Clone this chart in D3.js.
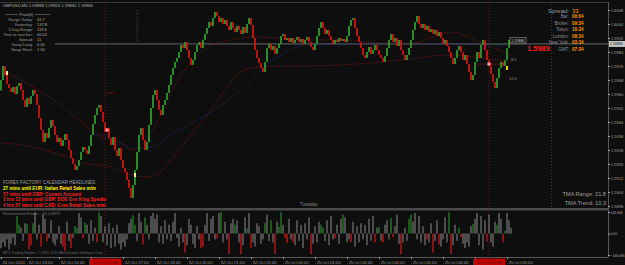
<!DOCTYPE html>
<html>
<head>
<meta charset="utf-8">
<script src="https://cdn.jsdelivr.net/npm/d3@7"></script>
<style>
	html, body { margin: 0; padding: 0; background: #0e0e0e; }
	svg { display: block; font-family: "Liberation Sans", Arial, sans-serif; }
</style>
</head>
<body>
<svg id="chart" width="625" height="265"></svg>
<script>
// ---- data ----

const symbol = "GBPUSD,M5";
const lastQuote = ["1.59888", "1.59926", "1.59882", "1.59886"];
const bid = 1.59886;

// close of each M5 bar, oldest first (open = previous close)
const firstOpen = 1.59620;
const closes = [
	1.59680,1.59760,1.59709,1.59657,1.59634,1.59611,1.59640,1.59600,1.59646,1.59663,
	1.59623,1.59566,1.59526,1.59577,1.59543,1.59589,1.59623,1.59600,1.59537,1.59463,
	1.59394,1.59326,1.59377,1.59349,1.59406,1.59451,1.59417,1.59366,1.59326,1.59349,
	1.59303,1.59337,1.59371,1.59337,1.59280,1.59234,1.59200,1.59166,1.59189,1.59223,
	1.59269,1.59297,1.59280,1.59257,1.59303,1.59366,1.59429,1.59480,1.59520,1.59537,
	1.59497,1.59440,1.59383,1.59406,1.59349,1.59309,1.59354,1.59280,1.59246,1.59291,
	1.59223,1.59177,1.59154,1.59109,1.59063,1.59006,1.59080,1.59166,1.59269,1.59366,
	1.59406,1.59337,1.59280,1.59326,1.59423,1.59520,1.59594,1.59623,1.59566,1.59509,
	1.59480,1.59537,1.59566,1.59606,1.59651,1.59709,1.59749,1.59783,1.59806,1.59840,
	1.59880,1.59863,1.59897,1.59851,1.59806,1.59766,1.59794,1.59840,1.59880,1.59897,
	1.59863,1.59909,1.59943,1.59977,1.60011,1.59989,1.60034,1.60069,1.60046,1.60011,
	1.60034,1.60000,1.60023,1.59989,1.59966,1.60011,1.59977,1.59954,1.59989,1.59966,
	1.59943,1.59983,1.59949,1.60000,1.60034,1.59994,1.59920,1.59851,1.59806,1.59777,
	1.59749,1.59726,1.59783,1.59863,1.59886,1.59851,1.59874,1.59829,1.59863,1.59886,
	1.59931,1.59943,1.59909,1.59920,1.59897,1.59920,1.59891,1.59909,1.59926,1.59897,
	1.59914,1.59886,1.59909,1.59926,1.59897,1.59869,1.59851,1.59886,1.59931,1.59977,
	1.60011,1.59977,1.59943,1.59966,1.59931,1.59909,1.59886,1.59909,1.59897,1.59920,
	1.59903,1.59914,1.59897,1.59931,1.59989,1.60023,1.60034,1.59977,1.59931,1.59897,
	1.59863,1.59823,1.59806,1.59840,1.59869,1.59829,1.59851,1.59880,1.59851,1.59823,
	1.59806,1.59783,1.59817,1.59863,1.59909,1.59943,1.59897,1.59920,1.59874,1.59909,
	1.59851,1.59823,1.59794,1.59823,1.59863,1.59909,1.59966,1.60011,1.60046,1.60000,
	1.59977,1.60000,1.59966,1.59989,1.59954,1.59971,1.59943,1.59966,1.59931,1.59954,
	1.59920,1.59886,1.59909,1.59874,1.59840,1.59806,1.59771,1.59806,1.59851,1.59874,
	1.59840,1.59794,1.59823,1.59771,1.59726,1.59680,1.59709,1.59783,1.59840,1.59806,
	1.59880,1.59909,1.59851,1.59794,1.59760,1.59714,1.59669,1.59634,1.59691,1.59749,
	1.59783,1.59760,1.59794,1.59863,1.59909,1.59886
];

// TMA bands: [bar index, price]
const tmaUpper = [[0,1.59737],[10,1.59680],[20,1.59611],[30,1.59537],[40,1.59440],[50,1.59354],
	[60,1.59320],[66,1.59280],[72,1.59337],[80,1.59480],[87,1.59651],[95,1.59783],[105,1.59880],
	[115,1.59909],[128,1.59926],[150,1.59909],[170,1.59909],[190,1.59891],[205,1.59891],
	[225,1.59954],[235,1.59920],[245,1.59869],[255,1.59823]];
const tmaLower = [[0,1.59320],[16,1.59297],[30,1.59251],[41,1.59206],[55,1.59183],[65,1.59137],
	[75,1.59126],[85,1.59223],[95,1.59366],[105,1.59509],[112,1.59623],[120,1.59726],[128,1.59754],
	[150,1.59760],[170,1.59766],[200,1.59794],[225,1.59823],[240,1.59806],[255,1.59783]];
const tmaMid = [[45,1.59371],[55,1.59354],[66,1.59291],[75,1.59297],[87,1.59383],[100,1.59463],
	[110,1.59537],[120,1.59623],[130,1.59737],[140,1.59823],[150,1.59874],[175,1.59886],
	[225,1.59886],[255,1.59874]];

// signal marks: bar index, price, colour
const markIdx = [3, 53, 67, 244, 253];
const markPrice = [1.59720, 1.59394, 1.59137, 1.59771, 1.59749];
const markColor = ["#f3e9a0", "#ff5c5c", "#f5f0a0", "#ff6262", "#f2d200"];
const markShape = ["rect", "dot", "rect", "dot", "rect"];

// short dashed levels: from bar, to bar, price
const shortLevels = [[53, 57, 1.59606], [238, 252, 1.59771]];

// Retracement Finder histogram, one value per bar
const histVals = [
	-100,-60,-90,-40,-110,-70,-30,-80,120,60,
	40,-50,70,65,-110,-80,70,145,-40,60,
	-90,130,100,-55,-30,90,-60,-80,-40,50,
	-70,-90,-120,80,-50,-100,-30,50,40,140,
	110,-35,75,60,-70,90,-50,40,-60,145,
	120,-60,50,-80,70,-100,40,-90,60,-70,
	-110,-60,-90,-40,70,100,125,60,-50,140,
	80,-75,110,60,-40,120,140,100,130,-60,
	50,-70,90,-40,60,-50,80,140,-30,-90,
	40,-60,-130,-80,100,60,-70,-100,50,-40,
	-100,-90,60,140,-50,100,120,-40,-35,140,
	146,-60,80,-40,-140,70,100,60,90,-60,
	-140,-80,110,35,140,-100,-60,-90,70,50,
	-70,-40,75,130,-50,90,-60,-140,80,45,
	145,60,-30,-65,100,-40,-60,-80,90,-50,
	60,-100,70,-40,110,-140,-70,50,-60,80,
	60,40,-50,90,-80,120,-40,-35,60,-70,
	100,130,110,-60,-40,-60,80,-90,50,-60,
	70,-40,60,-80,100,-50,120,-60,40,45,
	-50,-60,60,90,-40,105,-25,50,130,-70,
	-140,-60,40,-50,100,130,80,140,-40,120,
	-60,50,-80,-40,-60,70,-130,-50,90,-75,
	-90,-40,110,-60,145,-140,-80,60,-50,40,
	-25,-70,-100,-60,-90,50,65,100,140,-80,
	120,-110,90,-55,130,-60,-90,80,60,140,
	100,-60,20,140,90,40
];
// g = green, r = red, . = grey
const histKinds = (
	"........gg" + "...grrg..." + "r..r......" + ".rr..r.gg." + ".rg.....rg" +
	".........." + "......gg.." + ".rg......." + ".........." + "..r......." +
	"rr......r." + "g...r..g.." + "r..g.r...." + "..g..g.r.g" + "g.rr..r..." +
	".....r...." + "gg.....r.." + ".g...r...." + ".......r.g" + ".r...gr..." +
	"r...gg...." + "...r..r..r" + "....gr...g" + "r.....g..." + "...r....g." +
	".rg..."
).split("");
const histRange = 146.666;

// axes
const priceTicks = [1.6008, 1.6000, 1.5992, 1.5984, 1.5976, 1.5968, 1.5960, 1.5952,
	1.5944, 1.5936, 1.5928, 1.5920, 1.5912, 1.5904, 1.5896];
const timeTickIdx = [0, 13, 29, 45, 61, 77, 93, 109, 125, 141, 157, 173, 189, 205, 221, 237, 253];
const timeLabels = ["24 Oct 2011", "24 Oct 13:20", "24 Oct 14:40", "24 Oct 16:00", "24 Oct 17:20",
	"24 Oct 18:40", "24 Oct 20:00", "24 Oct 21:20", "24 Oct 22:40", "25 Oct 00:00", "25 Oct 01:20",
	"25 Oct 02:40", "25 Oct 04:00", "25 Oct 05:20", "25 Oct 06:40", "25 Oct 08:00", "25 Oct 09:20"];
const sessionIdx = [52, 244];
const sessionLabels = ["24 Oct 16:35", "25 Oct 08:35"];

// text panels
const pivotRows = [["Range Today:", "41.7"], ["Yesterday:", "137.8"], ["5 Day Range:", "119.6"],
	["Time to next bar:", "00:52"], ["Spread:", "11"], ["Swap Long:", "0.30"], ["Swap Short:", "1.30"]];
const spread = "33";
const clockRows = [["Bar:", "00:04"], ["Broker:", "09:34"], ["Tokyo:", "16:34"],
	["London:", "08:34"], ["New York:", "03:34"], ["GMT:", "07:34"]];
const headlines = [
	["27 mins until EUR: Italian Retail Sales m/m", "#ffff00"],
	["57 mins until GBP: Current Account", "#ff2020"],
	["1 hrs 12 mins until GBP: BOE Gov King Speaks", "#ff2020"],
	["4 hrs 57 mins until CAD: Core Retail Sales m/m", "#ff2020"]
];
const tmaRange = "21.8", tmaTrend = "10.3";

// ---- drawing ----

const W = 625, H = 265;
const axisX = 608;
const mainTop = 2, mainBottom = 207, subBottom = 257;

const svg = d3.select("#chart");

const x = d3.scaleLinear().domain([0, 255]).range([1, 511]);
const y = d3.scaleLinear()
	.domain([priceTicks[priceTicks.length - 1], priceTicks[0]])
	.range([206, 10]);
const ySub = d3.scaleLinear().domain([-histRange, histRange]).range([255, 212]);

svg.append("rect").attr("width", W).attr("height", H).attr("fill", "#0e0e0e");

const txt = (g, px, py, s, o = {}) => g.append("text")
	.attr("x", px).attr("y", py)
	.attr("font-size", o.size || 4.2)
	.attr("font-weight", o.bold ? "bold" : null)
	.attr("text-anchor", o.anchor || "start")
	.attr("fill", o.fill || "#a0a0a0")
	.text(s);

// frame
const frame = svg.append("g");
frame.append("line").attr("x1", 0).attr("x2", axisX).attr("y1", mainTop + 0.5).attr("y2", mainTop + 0.5)
	.attr("stroke", "#3a3a3a");
frame.append("rect").attr("x", 0).attr("y", 208).attr("width", axisX).attr("height", 2.5).attr("fill", "#4a4a4a");
frame.append("line").attr("x1", 0).attr("x2", axisX).attr("y1", subBottom + 0.5).attr("y2", subBottom + 0.5)
	.attr("stroke", "#555");
frame.append("line").attr("x1", axisX + 0.5).attr("x2", axisX + 0.5).attr("y1", mainTop).attr("y2", subBottom)
	.attr("stroke", "#555");

// session separators
svg.append("g").selectAll("line")
	.data(sessionIdx)
	.enter()
	.append("line")
		.attr("x1", (d) => x(d)).attr("x2", (d) => x(d))
		.attr("y1", mainTop).attr("y2", subBottom)
		.attr("stroke", "#9a1414").attr("stroke-width", 0.8).attr("stroke-dasharray", "1,2");

// shift line
svg.append("line").attr("x1", 551.5).attr("x2", 551.5).attr("y1", mainTop).attr("y2", mainBottom)
	.attr("stroke", "#2338c8").attr("stroke-width", 0.8).attr("stroke-dasharray", "1,2");

// bid line
svg.append("line").attr("x1", 55).attr("x2", axisX).attr("y1", y(bid)).attr("y2", y(bid))
	.attr("stroke", "#6e7474").attr("stroke-width", 0.9);

// TMA bands
const bandLine = d3.line().x((d) => x(d[0])).y((d) => y(d[1])).curve(d3.curveMonotoneX);
[[tmaUpper, "#8a1a1a"], [tmaLower, "#8a1a1a"], [tmaMid, "#23307a"]].forEach(([d, c]) => {
	svg.append("path").datum(d).attr("d", bandLine)
		.attr("fill", "none").attr("stroke", c).attr("stroke-width", 0.9).attr("stroke-dasharray", "1,1.5");
});

// candles
const openOf = (i) => i ? closes[i - 1] : firstOpen;
svg.append("g").selectAll("rect")
	.data(closes)
	.enter()
	.append("rect")
		.attr("x", (d, i) => x(i) - 0.9)
		.attr("width", 1.8)
		.attr("y", (d, i) => y(Math.max(d, openOf(i))))
		.attr("height", (d, i) => Math.max(1, Math.abs(y(d) - y(openOf(i)))))
		.attr("fill", (d, i) => d >= openOf(i) ? "#2c9c2c" : "#d01414");

// short levels
svg.append("g").selectAll("line")
	.data(shortLevels)
	.enter()
	.append("line")
		.attr("x1", (d) => x(d[0])).attr("x2", (d) => x(d[1]))
		.attr("y1", (d) => y(d[2])).attr("y2", (d) => y(d[2]))
		.attr("stroke", "#9a1a1a").attr("stroke-width", 0.9).attr("stroke-dasharray", "2,1.5");

// marks
const marks = svg.append("g");
markIdx.forEach((m, k) => {
	if (markShape[k] === "dot") {
		marks.append("circle").attr("cx", x(m)).attr("cy", y(markPrice[k])).attr("r", 2)
			.attr("fill", markColor[k]);
		marks.append("circle").attr("cx", x(m)).attr("cy", y(markPrice[k])).attr("r", 0.8)
			.attr("fill", "#ffd8d8");
	} else {
		marks.append("rect").attr("x", x(m) - 1).attr("y", y(markPrice[k]) - 2)
			.attr("width", 2).attr("height", 4).attr("fill", markColor[k]);
	}
});

// labels near the last bars
txt(svg, 511, 61, "8.5", { size: 4, fill: "#9a9a9a" });
txt(svg, 509, 80, "12.0", { size: 4, fill: "#9a9a9a" });
svg.append("rect").attr("x", 510).attr("y", 37.5).attr("width", 16).attr("height", 5.5)
	.attr("fill", "#111").attr("stroke", "#b0b0b0").attr("stroke-width", 0.5);
txt(svg, 511.2, 41.8, lastQuote[3], { size: 3.6, fill: "#d0d0d0" });
txt(svg, 527, 50.5, bid.toFixed(4), { size: 7.5, bold: true, fill: "#ff1c1c" });

// header
txt(svg, 3, 6.5, symbol + "  " + lastQuote.join(" "), { size: 4.2, fill: "#b4b4b4" });

// pivot panel
const piv = svg.append("g");
piv.append("line").attr("x1", 5).attr("x2", 18).attr("y1", 14.5).attr("y2", 14.5).attr("stroke", "#888").attr("stroke-width", 0.5);
piv.append("line").attr("x1", 35).attr("x2", 50).attr("y1", 14.5).attr("y2", 14.5).attr("stroke", "#888").attr("stroke-width", 0.5);
txt(piv, 26.5, 16, "Pivot(0)", { size: 4, anchor: "middle", fill: "#a8a8a8" });
pivotRows.forEach((r, k) => {
	txt(piv, 33, 20.8 + k * 5, r[0], { size: 4, anchor: "end", fill: "#9a9a9a" });
	txt(piv, 37, 20.8 + k * 5, r[1], { size: 4, fill: "#b0b0b0" });
});
txt(svg, 0, 0, "Pivot Point Levels", { size: 4, fill: "#3c3c3c" })
	.attr("transform", "translate(136,10) rotate(90)");

// clock panel
const clk = svg.append("g");
txt(clk, 569, 12.5, "Spread:", { size: 6, anchor: "end", fill: "#9a9a9a" });
txt(clk, 572, 12.5, spread, { size: 6, fill: "#ff9a00" });
clockRows.forEach((r, k) => {
	txt(clk, 569, 18 + k * 6.5, r[0], { size: 4.5, anchor: "end", fill: "#8e8e8e" });
	txt(clk, 572, 18 + k * 6.5, r[1], { size: 4.5, bold: true, fill: "#ff9c00" });
});

// calendar headlines
txt(svg, 3, 184, "FOREX FACTORY CALENDAR HEADLINES:", { size: 4.6, fill: "#a0a0a0" });
headlines.forEach((h, k) => {
	txt(svg, 3, 190 + k * 5.5, h[0], { size: 4.6, bold: true, fill: h[1] });
});

txt(svg, 300, 205.5, "Tuesday", { size: 4.6, fill: "#8a8a8a" });
txt(svg, 606, 196, "TMA Range: " + tmaRange, { size: 5.6, anchor: "end", fill: "#9e9e9e" });
txt(svg, 606, 204.5, "TMA Trend: " + tmaTrend, { size: 5.6, anchor: "end", fill: "#9e9e9e" });

// price axis
svg.append("g")
	.attr("transform", `translate(${axisX},0)`)
	.call(d3.axisRight(y).tickValues(priceTicks).tickSize(2).tickFormat(d3.format(".4f")))
	.call((g) => g.select(".domain").remove())
	.call((g) => g.attr("font-size", 4).attr("font-family", null).attr("color", "#a6a6a6"))
	.call((g) => g.selectAll("text").attr("x", 3));

// bid label on axis
svg.append("rect").attr("x", axisX + 1).attr("y", y(bid) - 3).attr("width", 16).attr("height", 6)
	.attr("fill", "#c4c4c4");
txt(svg, axisX + 2, y(bid) + 1.5, lastQuote[3], { size: 3.5, fill: "#1a1a1a" });

// sub window
const sub = svg.append("g");
sub.selectAll("rect")
	.data(histVals)
	.enter()
	.append("rect")
		.attr("x", (d, i) => x(i) - 0.5)
		.attr("width", 1)
		.attr("y", (d) => ySub(Math.max(0, d)))
		.attr("height", (d) => Math.abs(ySub(d) - ySub(0)))
		.attr("fill", (d, i) => histKinds[i] === "g" ? "#2aa02a" : histKinds[i] === "r" ? "#ff1a1a" : "#8a8a8a");

txt(sub, 3, 215, "Retracement Finder - (4) 0.6875", { size: 4, fill: "#7a7a7a" });
txt(sub, 3, 253.5, "MT4 Trading Station, \u00a9 2001-2011 MetaQuotes Software Corp.", { size: 3.6, fill: "#6a6a6a" });

svg.append("g")
	.attr("transform", `translate(${axisX},0)`)
	.call(d3.axisRight(ySub).tickValues([histRange, 0, -histRange]).tickSize(2)
		.tickFormat((d) => d === 0 ? "0.00" : d3.format(".3f")(d)))
	.call((g) => g.select(".domain").remove())
	.call((g) => g.attr("font-size", 3.4).attr("font-family", null).attr("color", "#a6a6a6"))
	.call((g) => g.selectAll("text").attr("x", 2.5));

// time axis
svg.append("g")
	.attr("transform", `translate(0,${subBottom})`)
	.call(d3.axisBottom(x).tickValues(timeTickIdx).tickSize(2).tickFormat((d, i) => timeLabels[i]))
	.call((g) => g.select(".domain").remove())
	.call((g) => g.attr("font-size", 4.2).attr("font-family", null).attr("color", "#9a9a9a"))
	.call((g) => g.selectAll("text").attr("text-anchor", "start").attr("x", 1).attr("y", 4.2).attr("dy", "0.71em"));

// session labels on the time axis
const sess = svg.append("g");
sessionIdx.forEach((s, k) => {
	sess.append("rect").attr("x", x(s) - 16).attr("y", 258.5).attr("width", 32).attr("height", 6.5)
		.attr("fill", "#c20000");
	txt(sess, x(s), 263.5, sessionLabels[k], { size: 4.2, anchor: "middle", fill: "#5a0000" });
});
</script>
</body>
</html>
